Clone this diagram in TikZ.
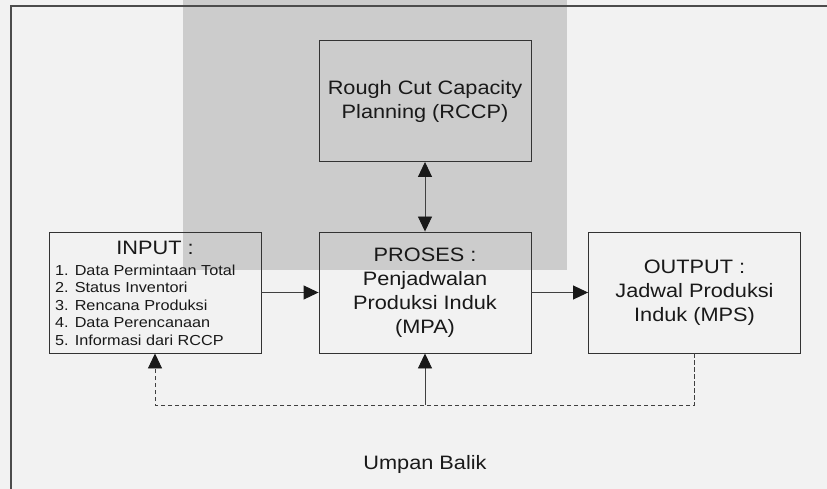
\documentclass[tikz,border=0pt]{standalone}
\usepackage{fontspec}
\setmainfont{Liberation Sans}[FakeStretch=1.12]
\usepackage{tikz}
\usetikzlibrary{arrows.meta}
\definecolor{wmgray}{rgb}{0.8,0.8,0.8}
\definecolor{bggray}{rgb}{0.95,0.95,0.95}
\definecolor{linegray}{rgb}{0.25,0.25,0.25}
\tikzstyle{every node}=[font=\fontsize{19.4}{24}\selectfont, text=black!90]

\begin{document}
\begin{tikzpicture}[line join=miter,x=1pt,y=-1pt,>={Triangle[length=15pt,width=14pt,color=black!90]},
    box/.style={draw=black!80,line width=0.9pt,minimum width=212pt,minimum height=121pt,inner sep=0pt,align=center},
    conn/.style={draw=linegray,line width=0.9pt},
    feedback/.style={conn,dash pattern=on 4.5pt off 2.5pt},
    listitem/.style={anchor=base west,inner sep=0pt,font=\fontsize{14.5}{17.5}\selectfont}]
                \clip (0,0) rectangle (827,489);
                \fill[bggray] (0,0) rectangle (827,489);
                \fill[wmgray] (183,0) rectangle (567,270);
                \draw[line width=1.3pt,color=black!70] (11,489) -- (11,6) -- (827,6);
                % kotak utama
                \node[box] (rccp) at (425,101) {Rough Cut Capacity\\Planning (RCCP)};
                \node[box] (proses) at (425,292.5) {PROSES :\\Penjadwalan\\Produksi Induk\\(MPA)};
                \node[box] (input) at (155,292.5) {};
                \node[box] (output) at (694.5,292.5) {OUTPUT :\\Jadwal Produksi\\Induk (MPS)};
                \node[anchor=base,inner sep=0pt] (inputtitle) at (155,254.3) {INPUT :};
                \foreach \i/\t in {1/Data Permintaan Total,2/Status Inventori,3/Rencana Produksi,4/Data Perencanaan,5/Informasi dari RCCP}
                    \node[listitem] (item\i) at (55,257.5+17.5*\i) {\i. \t};
                % panah
                \draw[conn,<->] (rccp.south) -- (proses.north);
                \draw[conn,->] (input.east) -- (proses.west);
                \draw[conn,->] (proses.east) -- (output.west);
                % umpan balik
                \coordinate (fb) at (425,405);
                \draw[feedback,->] (output.south) -- (output.south |- fb) -| (input.south);
                \draw[conn,->] (fb) -- (proses.south);
                \node[anchor=base,inner sep=0pt] (umpan) at (425,469) {Umpan Balik};
            \end{tikzpicture}
\end{document}
